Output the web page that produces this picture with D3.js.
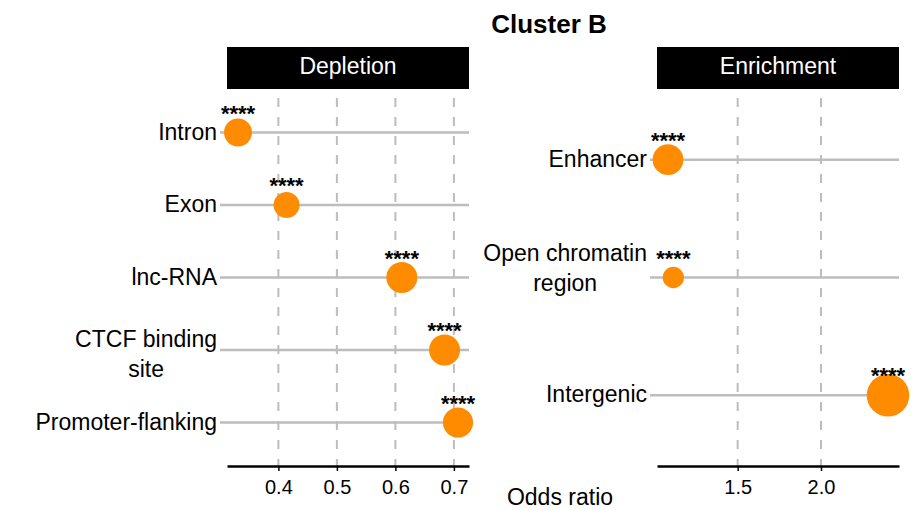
<!DOCTYPE html>
<html>
<head>
<meta charset="utf-8">
<script src="https://cdn.jsdelivr.net/npm/d3@7"></script>
<style>
  html, body { margin: 0; padding: 0; background: #ffffff; }
  svg { display: block; font-family: "Liberation Sans", Arial, Helvetica, sans-serif; }
</style>
</head>
<body>
<script>
// ---------- data ----------
const title = "Cluster B";
const xAxisTitle = "Odds ratio";

const depletionCategories = ["Intron", "Exon", "lnc-RNA", "CTCF binding\nsite", "Promoter-flanking"];
const depletionOdds       = [0.331, 0.414, 0.611, 0.684, 0.707];
const depletionWeight     = [43, 37, 53, 53, 50];
const depletionStars      = ["****", "****", "****", "****", "****"];
const depletionTicks      = [0.4, 0.5, 0.6, 0.7];

const enrichmentCategories = ["Enhancer", "Open chromatin\nregion", "Intergenic"];
const enrichmentOdds       = [1.082, 1.114, 2.402];
const enrichmentWeight     = [52, 25, 100];
const enrichmentStars      = ["****", "****", "****"];
const enrichmentTicks      = [1.5, 2.0];

// ---------- layout ----------
const W = 917, H = 510;
const panelW = 242, panelTop = 89, panelBottom = 466, stripTop = 47, stripH = 42;
const panels = [
  { name: "Depletion",  cats: depletionCategories,  odds: depletionOdds,  weight: depletionWeight,  stars: depletionStars,  ticks: depletionTicks,  x0: 227, multiShift: -3 },
  { name: "Enrichment", cats: enrichmentCategories, odds: enrichmentOdds, weight: enrichmentWeight, stars: enrichmentStars, ticks: enrichmentTicks, x0: 657, multiShift: -17 }
];

const svg = d3.select("body").append("svg").attr("width", W).attr("height", H);

const allWeights = depletionWeight.concat(enrichmentWeight);
const size = d3.scaleSqrt().domain([0, d3.max(allWeights)]).range([0, 21.3]);

const gridColor = "#bdbdbd";
const orange = "#ff8c00";
const labelSize = 23;

panels.forEach(p => {
  const ext = d3.extent(p.odds);
  const pad = (ext[1] - ext[0]) * 0.05;
  const x = d3.scaleLinear().domain([ext[0] - pad, ext[1] + pad]).range([p.x0, p.x0 + panelW]);
  const y = d3.scalePoint().domain(p.cats).range([panelTop, panelBottom]).padding(0.6);
  const g = svg.append("g");

  // strip
  g.append("rect").attr("x", p.x0).attr("y", stripTop).attr("width", panelW).attr("height", stripH).attr("fill", "#000");
  g.append("text").attr("x", p.x0 + panelW / 2).attr("y", stripTop + stripH / 2 + 6)
    .attr("text-anchor", "middle").attr("fill", "#fff").attr("font-size", 23).text(p.name);

  // vertical dashed gridlines
  g.selectAll(".vgrid").data(p.ticks).join("line")
    .attr("x1", d => x(d)).attr("x2", d => x(d))
    .attr("y1", panelTop).attr("y2", panelBottom)
    .attr("stroke", gridColor).attr("stroke-width", 2)
    .attr("stroke-dasharray", "9,10").attr("stroke-dashoffset", 10);

  // horizontal category lines (with y tick)
  g.selectAll(".hline").data(p.cats).join("line")
    .attr("x1", p.x0 - 7).attr("x2", p.x0 + panelW)
    .attr("y1", d => y(d)).attr("y2", d => y(d))
    .attr("stroke", gridColor).attr("stroke-width", 2.5);

  // x axis
  const axis = g.append("g").attr("transform", `translate(0,${panelBottom})`)
    .call(d3.axisBottom(x).tickValues(p.ticks).tickFormat(d3.format(".1f")).tickSize(5).tickSizeOuter(0).tickPadding(8.5));
  axis.select(".domain").attr("stroke", "#000").attr("stroke-width", 2.5);
  axis.selectAll(".tick line").attr("stroke", "#000").attr("stroke-width", 1.5);
  axis.selectAll(".tick text").attr("font-size", 20).attr("fill", "#000")
    .attr("font-family", "'Liberation Sans', Arial, Helvetica, sans-serif");

  // category labels
  p.cats.forEach(c => {
    const lines = c.split("\n");
    const cy = y(c);
    if (lines.length === 1) {
      g.append("text").attr("x", p.x0 - 10).attr("y", cy + 7)
        .attr("text-anchor", "end").attr("font-size", labelSize).attr("fill", "#000").text(c);
    } else {
      const t = g.append("text").attr("font-size", labelSize).attr("fill", "#000").attr("text-anchor", "middle");
      const spans = lines.map((l, i) => t.append("tspan").attr("y", cy + p.multiShift + i * 30).text(l));
      const maxW = d3.max(spans, s => s.node().getComputedTextLength());
      const cx = p.x0 - 10 - maxW / 2;
      spans.forEach(s => s.attr("x", cx));
    }
  });

  // points
  const idx = d3.range(p.cats.length);
  g.selectAll(".pt").data(idx).join("circle")
    .attr("cx", i => x(p.odds[i])).attr("cy", i => y(p.cats[i]))
    .attr("r", i => size(p.weight[i])).attr("fill", orange);

  // significance stars
  g.selectAll(".star").data(idx).join("text")
    .attr("x", i => x(p.odds[i])).attr("y", i => y(p.cats[i]) - 12)
    .attr("text-anchor", "middle").attr("font-size", 22).attr("font-weight", "bold").attr("fill", "#000")
    .text(i => p.stars[i]);
});

// titles
svg.append("text").attr("x", 549).attr("y", 33).attr("text-anchor", "middle")
  .attr("font-size", 26).attr("font-weight", "bold").attr("fill", "#000").text(title);
svg.append("text").attr("x", 560).attr("y", 505).attr("text-anchor", "middle")
  .attr("font-size", 23).attr("fill", "#000").text(xAxisTitle);
</script>
</body>
</html>
